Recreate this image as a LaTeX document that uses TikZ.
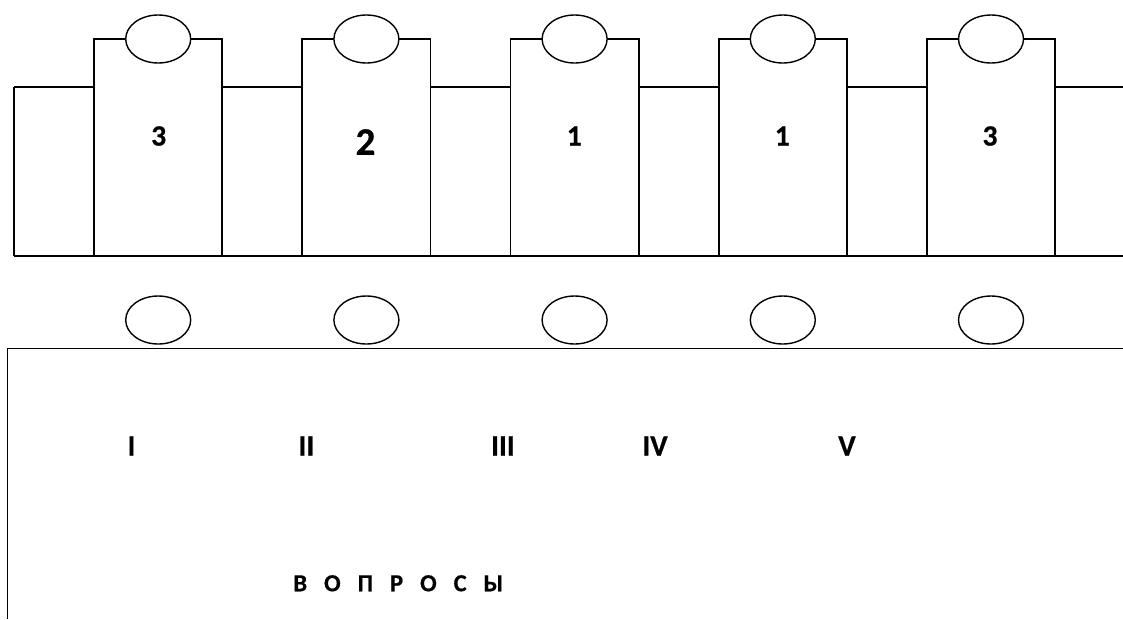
\documentclass[tikz,border=0pt]{standalone}
\usepackage{fontspec}
\setmainfont{Carlito}[BoldFeatures={FakeBold=0.6}]
\usetikzlibrary{shapes.geometric}
\begin{document}
\begin{tikzpicture}[x=1pt,y=-1pt, line width=1.8pt,
  ov/.style={draw, ellipse, fill=white, minimum width=65pt, minimum height=48pt, inner sep=0pt, line width=1.4pt},
  num/.style={font=\bfseries\fontsize{29.5}{29.5}\selectfont, inner sep=0pt},
  bignum/.style={font=\bfseries\fontsize{39}{39}\selectfont, inner sep=0pt},
  rom/.style={font=\bfseries\fontsize{29.5}{29.5}\selectfont, inner sep=0pt},
  word/.style={font=\bfseries\fontsize{24.5}{24.5}\selectfont, inner sep=0pt}]
\useasboundingbox (0,0) rectangle (1123,619);
% left block and top/bottom lines
\draw (14,87) coordinate (tl) -- (94,87);
\draw (14,87) -- (14,255.7);
\draw (14,255.7) coordinate (bl) -- (1123,255.7) coordinate (br);
\foreach \i in {0,...,4} {
  \pgfmathsetmacro\L{94+208.2*\i}
  \pgfmathsetmacro\R{\L+128.3}
  \pgfmathsetmacro\N{\L+208.2}
  \draw (\L,39) rectangle (\R,255.7);
  \ifnum\i<4 \draw (\R,87) -- (\N,87); \fi
  \node[ov] (top\i) at (\L+64.2,39) {};
  \node[ov] (low\i) at (\L+64.2,320) {};
}
\draw (1054.7,87) -- (1123,87) coordinate (tr);
% numbers
\node[num] (n1) at (158.7,136) {3};
\node[bignum] (n2) at (365.5,142) {2};
\node[num] (n3) at (574.3,136) {1};
\node[num] (n4) at (782.3,136) {1};
\node[num] (n5) at (990,136) {3};
% lower frame
\draw (1123,348.5) coordinate (fr) -- (7.5,348.5) coordinate (fl) -- (7.5,619) coordinate (fb);
% roman numerals
\node[rom] (r1) at (131.5,446) {I};
\node[rom] (r2) at (306.4,446) {II};
\node[rom] (r3) at (502.9,446) {III};
\node[rom] (r4) at (655,446) {IV};
\node[rom] (r5) at (847,446) {V};
\node[word] (w) at (398.3,583.3) {В\hspace{17pt}О\hspace{17pt}П\hspace{17pt}Р\hspace{17pt}О\hspace{17pt}С\hspace{17pt}Ы};
\end{tikzpicture}
\end{document}
